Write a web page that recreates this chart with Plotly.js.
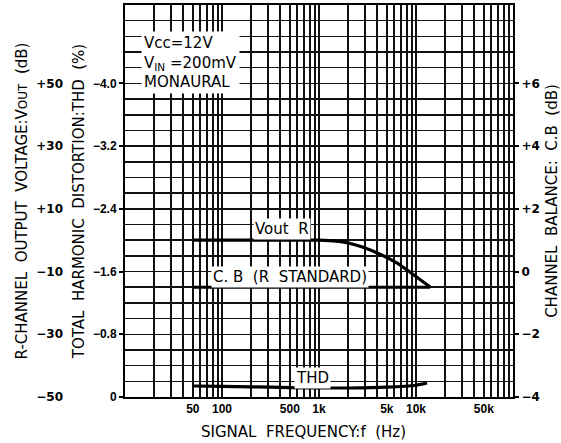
<!DOCTYPE html>
<html>
<head>
<meta charset="utf-8">
<script src="https://cdn.plot.ly/plotly-3.0.1.min.js"></script>
<style>html,body{margin:0;padding:0;background:#fff;}#chart{width:561px;height:443px;}</style>
</head>
<body>
<div id="chart"></div>
<script>
// ---- data ----
const voutFreq = [50, 100, 200, 500, 1000, 1500, 2000, 2800, 4200, 6400, 8700, 14000];
const voutDb   = [0, 0, 0, 0, 0, -0.3, -0.9, -2.2, -4.4, -7.3, -10.2, -14.9];

const cbFreq = [50, 1000, 14000];
const cbDb   = [-0.5, -0.5, -0.5];

const thdFreq = [50, 100, 200, 500, 1000, 2000, 5000, 10000, 13000];
const thdPct  = [0.14, 0.135, 0.13, 0.12, 0.115, 0.115, 0.125, 0.15, 0.18];

const xTickVals = [50, 100, 500, 1000, 5000, 10000, 50000];
const xTickText = ["50", "100", "500", "1k", "5k", "10k", "50k"];

const thdTickVals = [0, 0.8, 1.6, 2.4, 3.2, 4.0];
const thdTickText = ["0", "\u22120.8", "\u22121.6", "\u22122.4", "\u22123.2", "\u22124.0"];

const voutTickVals = [-50, -30, -10, 10, 30, 50];
const voutTickText = ["\u221250", "\u221230", "\u221210", "+10", "+30", "+50"];

const cbTickVals = [-4, -2, 0, 2, 4, 6];
const cbTickText = ["\u22124", "\u22122", "0", "+2", "+4", "+6"];

// ---- chart ----
const W = 561, H = 443;
const plotL = 125, plotR = 513, plotT = 5, plotB = 397;
const px = v => v / W;
const py = v => (plotB - v) / (plotB - plotT);

const SANS = "Liberation Sans, Arial, Helvetica, sans-serif";
const WIDE = "DejaVu Sans, Verdana, sans-serif";
const narrowBold = {family: SANS, size: 12, color: "#000", weight: "bold"};
const wideBold = {family: WIDE, size: 12, color: "#000", weight: "bold"};
const titleFont = {family: WIDE, size: 15, color: "#000"};
const noteFont = {family: WIDE, size: 15, color: "#000"};
const lineStyle = {color: "#000", width: 3.2, shape: "spline", smoothing: 0.6};

const traces = [
  {x: voutFreq, y: voutDb, yaxis: "y2", mode: "lines", line: lineStyle, name: "Vout R", hoverinfo: "skip"},
  {x: cbFreq, y: cbDb, yaxis: "y3", mode: "lines", line: lineStyle, name: "C.B", hoverinfo: "skip"},
  {x: thdFreq, y: thdPct, yaxis: "y", mode: "lines", line: lineStyle, name: "THD", hoverinfo: "skip"}
];

const gridC = "#111";
const layout = {
  width: W, height: H,
  margin: {l: 0, r: 0, t: plotT, b: H - plotB},
  paper_bgcolor: "#fff", plot_bgcolor: "#fff",
  showlegend: false,
  xaxis: {
    type: "log", range: [1, 5], domain: [px(plotL), px(plotR)],
    tickmode: "array", tickvals: xTickVals, ticktext: xTickText,
    ticks: "", tickfont: narrowBold,
    showgrid: true, gridcolor: gridC, gridwidth: 2,
    minor: {dtick: "D1", showgrid: true, gridcolor: gridC, gridwidth: 2, ticks: ""},
    showline: true, linecolor: "#000", linewidth: 2, mirror: true,
    zeroline: false, automargin: false
  },
  yaxis: {
    range: [0, 5], anchor: "x",
    tickmode: "array", tickvals: thdTickVals, ticktext: thdTickText,
    ticks: "outside", ticklen: 4, tickwidth: 2, tickcolor: "#000",
    tickfont: narrowBold, ticklabelstandoff: 0,
    showgrid: true, gridcolor: gridC, gridwidth: 1.5,
    minor: {tickmode: "linear", tick0: 0, dtick: 0.2, showgrid: true, gridcolor: gridC, gridwidth: 1.5, ticks: ""},
    showline: true, linecolor: "#000", linewidth: 2, mirror: true,
    zeroline: false, automargin: false,
    title: {text: "TOTAL  HARMONIC  DISTORTION:THD  (%)", font: titleFont, standoff: 5}
  },
  yaxis2: {
    range: [-50, 75], overlaying: "y", side: "left", anchor: "free", position: px(63),
    tickmode: "array", tickvals: voutTickVals, ticktext: voutTickText,
    ticks: "", tickfont: wideBold, showgrid: false, showline: false, zeroline: false, automargin: false,
    title: {text: "R-CHANNEL  OUTPUT  VOLTAGE:V<span style='font-size:12px'>OUT</span>  (dB)", font: titleFont, standoff: 3}
  },
  yaxis3: {
    range: [-4, 8.5], overlaying: "y", side: "right", anchor: "x",
    tickmode: "array", tickvals: cbTickVals, ticktext: cbTickText,
    ticks: "outside", ticklen: 5, tickwidth: 2, tickcolor: "#000",
    tickfont: wideBold, showgrid: false, showline: false, zeroline: false, automargin: false,
    title: {text: "CHANNEL  BALANCE:  C.B  (dB)", font: titleFont, standoff: 7}
  },
  annotations: [
    {xref: "paper", yref: "paper", x: px(303), y: py(432), xanchor: "center", yanchor: "middle",
     text: "SIGNAL  FREQUENCY:f  (Hz)", showarrow: false, font: titleFont},
    {xref: "paper", yref: "paper", x: px(141), y: py(31), xanchor: "left", yanchor: "top", align: "left",
     text: "Vcc=12V<br>V<sub>IN</sub> =200mV<br>MONAURAL", showarrow: false,
     font: noteFont, bgcolor: "#fff", borderpad: 2},
    {xref: "paper", yref: "paper", x: px(282), y: py(229), xanchor: "center", yanchor: "middle",
     text: "Vout  R", showarrow: false, font: noteFont, bgcolor: "#fff", borderpad: 1},
    {xref: "paper", yref: "paper", x: px(290), y: py(277), xanchor: "center", yanchor: "middle",
     text: "C. B  (R  STANDARD)", showarrow: false, font: noteFont, bgcolor: "#fff", borderpad: 1},
    {xref: "paper", yref: "paper", x: px(312), y: py(378), xanchor: "center", yanchor: "middle",
     text: "THD", showarrow: false, font: noteFont, bgcolor: "#fff", borderpad: 1}
  ]
};

Plotly.newPlot("chart", traces, layout, {staticPlot: true, displayModeBar: false});
</script>
</body>
</html>
